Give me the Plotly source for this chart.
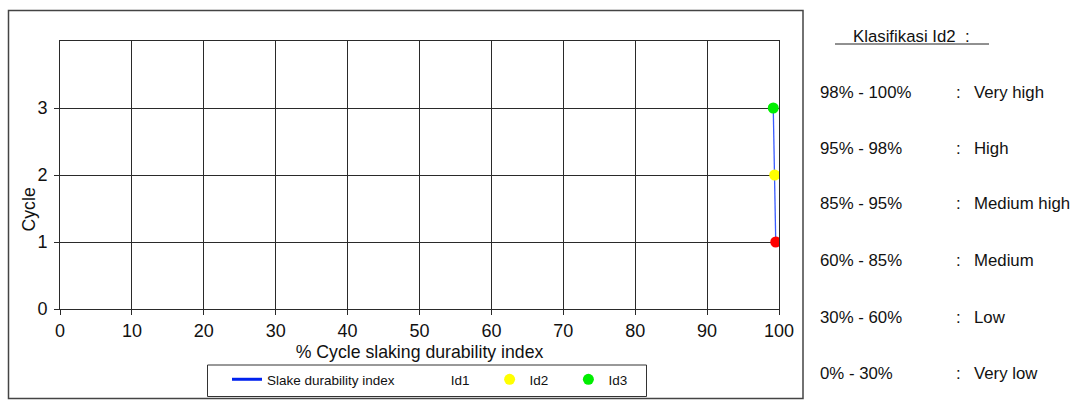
import plotly.graph_objects as go

# Data
cycles = [1, 2, 3]
sdi = [99.55, 99.4, 99.2]
point_names = ["Id1", "Id2", "Id3"]
point_colors = ["#ff0000", "#ffff00", "#00ee00"]
x_ticks = list(range(0, 101, 10))
y_ticks = [0, 1, 2, 3]
class_ranges = ["98% - 100%", "95% - 98%", "85% - 95%", "60% - 85%", "30% - 60%", "0% - 30%"]
class_labels = ["Very high", "High", "Medium high", "Medium", "Low", "Very low"]

FONT = "Liberation Sans, Arial, sans-serif"
NB = "\u00a0"

W, H = 1075, 401
L, T = 60, 41
R = W - 779
B = H - 309
pw, ph = W - L - R, H - T - B


def px(x):  # window x -> paper
    return (x - L) / pw


def py(y):  # window y -> paper
    return (H - B - y) / ph


fig = go.Figure()

# data line
fig.add_trace(go.Scatter(x=sdi, y=cycles, mode="lines",
                         line=dict(color="#3a5cff", width=1.3),
                         showlegend=False, hoverinfo="skip"))
# legend entry for the line
fig.add_trace(go.Scatter(x=[None], y=[None], mode="lines", name="Slake durability index" + NB * 3,
                         line=dict(color="#0022ee", width=3), legendrank=1))
# points
for i, (nm, col) in enumerate(zip(point_names, point_colors)):
    fig.add_trace(go.Scatter(x=[sdi[i]], y=[cycles[i]], mode="markers", name=nm + NB * 4,
                             marker=dict(color=col, size=11),
                             showlegend=(i > 0), legendrank=i + 2))
# Id1 legend entry without symbol
fig.add_trace(go.Scatter(x=[None], y=[None], mode="none", name=point_names[0] + NB * 4,
                         legendrank=2))

fig.update_xaxes(range=[0, 100], tickvals=x_ticks, showgrid=True, gridcolor="#2a2a2a", gridwidth=1,
                 showline=True, linecolor="#2a2a2a", linewidth=1, mirror=True,
                 ticks="outside", ticklen=5, tickcolor="#2a2a2a", zeroline=False,
                 ticklabelstandoff=0, automargin=False,
                 tickfont=dict(family=FONT, size=18, color="#111"),
                 title=dict(text="% Cycle slaking durability index", standoff=6,
                            font=dict(family=FONT, size=17.7, color="#111")))
fig.update_yaxes(range=[0, 4], tickvals=y_ticks, showgrid=True, gridcolor="#2a2a2a", gridwidth=1,
                 showline=True, linecolor="#2a2a2a", linewidth=1, mirror=True,
                 ticks="outside", ticklen=5, tickcolor="#2a2a2a", zeroline=False,
                 ticklabelstandoff=3, automargin=False,
                 tickfont=dict(family=FONT, size=18, color="#111"))

shapes = [
    dict(type="rect", xref="paper", yref="paper", x0=px(8.5), x1=px(803), y0=py(398.5), y1=py(10.5),
         line=dict(color="#444", width=1.5), layer="below"),
    dict(type="rect", xref="paper", yref="paper", x0=px(207.5), x1=px(646.5), y0=py(396.5), y1=py(365),
         line=dict(color="#333", width=1), layer="below"),
    dict(type="line", xref="paper", yref="paper", x0=px(835), x1=px(989), y0=py(44), y1=py(44),
         line=dict(color="#222", width=1)),
]

TXT = dict(family=FONT, size=16.8, color="#111")
annotations = [
    dict(text="Cycle", xref="paper", yref="paper", x=px(28.5), y=py(210), textangle=-90,
         xanchor="center", yanchor="middle", showarrow=False,
         font=dict(family=FONT, size=17.7, color="#111")),
    dict(text="Klasifikasi Id2  :", xref="paper", yref="paper", x=px(851), y=py(37),
         xanchor="left", yanchor="middle", showarrow=False, font=TXT),
]
row_y = [92, 148, 204, 260, 317, 373]
for yy, rng, lab in zip(row_y, class_ranges, class_labels):
    annotations.append(dict(text=rng, xref="paper", yref="paper", x=px(818), y=py(yy),
                            xanchor="left", yanchor="middle", showarrow=False, font=TXT))
    annotations.append(dict(text=":", xref="paper", yref="paper", x=px(954), y=py(yy),
                            xanchor="left", yanchor="middle", showarrow=False, font=TXT))
    annotations.append(dict(text=lab, xref="paper", yref="paper", x=px(972), y=py(yy),
                            xanchor="left", yanchor="middle", showarrow=False, font=TXT))

fig.update_layout(
    width=W, height=H,
    margin=dict(l=L, r=R, t=T, b=B, pad=0, autoexpand=False),
    paper_bgcolor="white", plot_bgcolor="white",
    font=dict(family=FONT, color="#111"),
    showlegend=True,
    legend=dict(orientation="h", x=px(227), y=py(364), xanchor="left", yanchor="top",
                borderwidth=0, bgcolor="rgba(0,0,0,0)",
                font=dict(family=FONT, size=13.5, color="#111"), traceorder="normal"),
    shapes=shapes, annotations=annotations,
)

fig.write_html("out.html", config={"displayModeBar": False},
               post_script="document.body.style.margin='0';document.body.style.overflow='hidden';")
